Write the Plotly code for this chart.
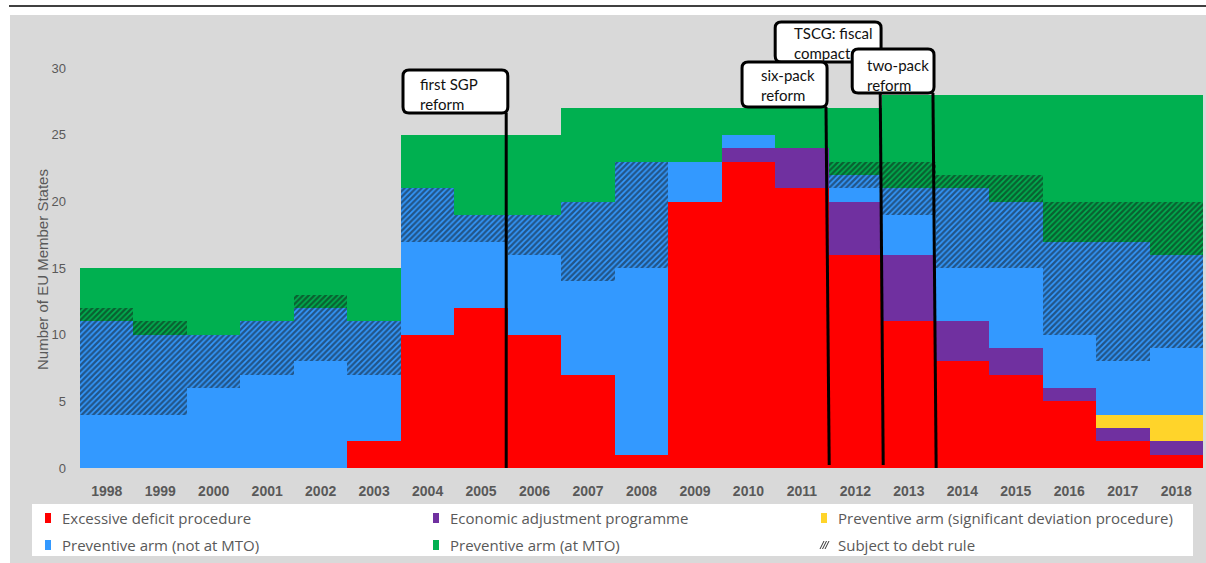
import plotly.graph_objects as go

# ---------------------------------------------------------------- data
years = list(range(1998, 2019))

# number of member states in each procedural situation (stacked bottom -> top)
excessive_deficit = [0, 0, 0, 0, 0, 2, 10, 12, 10, 7, 1, 20, 23, 21, 16, 11, 8, 7, 5, 2, 1]
adjustment_programme = [0, 0, 0, 0, 0, 0, 0, 0, 0, 0, 0, 0, 1, 3, 4, 5, 3, 2, 1, 1, 1]
significant_deviation = [0, 0, 0, 0, 0, 0, 0, 0, 0, 0, 0, 0, 0, 0, 0, 0, 0, 0, 0, 1, 2]
not_at_mto = [4, 4, 6, 7, 8, 5, 7, 5, 6, 7, 14, 3, 1, 0, 1, 3, 4, 6, 4, 4, 5]
not_at_mto_debt_rule = [7, 6, 4, 4, 4, 4, 4, 2, 3, 6, 8, 0, 0, 0, 1, 2, 6, 5, 7, 9, 7]
at_mto_debt_rule = [1, 1, 0, 0, 1, 0, 0, 0, 0, 0, 0, 0, 0, 0, 1, 2, 1, 2, 3, 3, 4]
at_mto = [3, 4, 5, 4, 2, 4, 4, 6, 6, 7, 4, 4, 2, 3, 4, 5, 6, 6, 8, 8, 8]

y_ticks = [0, 5, 10, 15, 20, 25, 30]

legend_labels = [
    "Excessive deficit procedure",
    "Economic adjustment programme",
    "Preventive arm (significant deviation procedure)",
    "Preventive arm (not at MTO)",
    "Preventive arm (at MTO)",
    "Subject to debt rule",
]

# ---------------------------------------------------------------- styles
RED = "#FF0000"
PURPLE = "#7030A0"
YELLOW = "#FFD42A"
BLUE = "#3399FF"
GREEN = "#00B050"
BG = "#D9D9D9"
GREY_TEXT = "#595959"
HATCH = dict(shape="/", fgcolor="#111111", size=4, solidity=0.6)

W, H = 1206, 563
PLOT_L, PLOT_R, PLOT_T, PLOT_B = 80, 1203, 15, 468
Y_MAX = 34


def px_x(px):
    """figure pixel column -> paper x"""
    return (px - PLOT_L) / (PLOT_R - PLOT_L)


def px_y(py):
    """figure pixel row -> paper y"""
    return (PLOT_B - py) / (PLOT_B - PLOT_T)


fig = go.Figure()

series = [
    (legend_labels[0], excessive_deficit, RED, None),
    (legend_labels[1], adjustment_programme, PURPLE, None),
    (legend_labels[2], significant_deviation, YELLOW, None),
    (legend_labels[3], not_at_mto, BLUE, None),
    (legend_labels[3] + " - debt rule", not_at_mto_debt_rule, BLUE, HATCH),
    (legend_labels[4] + " - debt rule", at_mto_debt_rule, GREEN, HATCH),
    (legend_labels[4], at_mto, GREEN, None),
]
for name, vals, color, hatch in series:
    marker = dict(color=color, line=dict(width=0))
    if hatch:
        marker["pattern"] = dict(hatch, bgcolor=color)
    fig.add_trace(go.Bar(x=years, y=vals, name=name, marker=marker,
                         width=1.0, showlegend=False))

# ---------------------------------------------------------------- reform callouts
events = [
    dict(text="first SGP<br>reform", box=(2003.54, 2005.50, 26.64, 29.87),
         text_at=(2003.82, 28.07), line=((2005.47, 26.64), (2005.47, 0.0))),
    dict(text="TSCG: fiscal<br>compact", box=(2010.50, 2012.48, 30.47, 33.47),
         text_at=(2010.81, 31.90), line=((2012.46, 30.47), (2012.52, 0.22))),
    dict(text="six-pack<br>reform", box=(2009.88, 2011.47, 27.09, 30.47),
         text_at=(2010.20, 28.78), line=((2011.45, 27.09), (2011.51, 0.22))),
    dict(text="two-pack<br>reform", box=(2011.94, 2013.47, 28.14, 31.45),
         text_at=(2012.18, 29.50), line=((2013.45, 28.14), (2013.51, 0.0))),
]

shapes = []
annotations = []

# callout pointer lines first so boxes sit on top of them
for ev in events:
    (lx0, ly0), (lx1, ly1) = ev["line"]
    shapes.append(dict(type="line", xref="x", yref="y", x0=lx0, y0=ly0, x1=lx1, y1=ly1,
                       line=dict(color="black", width=3), layer="above"))

RX = 6 / ((PLOT_R - PLOT_L) / 21)
RY = 6 / ((PLOT_B - PLOT_T) / Y_MAX)


def rounded_box(x0, x1, y0, y1):
    return (f"M {x0 + RX},{y0} L {x1 - RX},{y0} Q {x1},{y0} {x1},{y0 + RY} "
            f"L {x1},{y1 - RY} Q {x1},{y1} {x1 - RX},{y1} "
            f"L {x0 + RX},{y1} Q {x0},{y1} {x0},{y1 - RY} "
            f"L {x0},{y0 + RY} Q {x0},{y0} {x0 + RX},{y0} Z")


for ev in events:
    x0, x1, y0, y1 = ev["box"]
    shapes.append(dict(type="path", xref="x", yref="y", path=rounded_box(x0, x1, y0, y1),
                       fillcolor="white", line=dict(color="black", width=3), layer="above"))
    tx, ty = ev["text_at"]
    annotations.append(dict(x=tx, y=ty, xref="x", yref="y", text=ev["text"], showarrow=False,
                            xanchor="left", yanchor="middle", align="left",
                            font=dict(family="Lato", size=15, color="#111111")))

# ---------------------------------------------------------------- page frame
shapes.append(dict(type="rect", xref="paper", yref="paper", x0=px_x(0), x1=px_x(W),
                   y0=px_y(15), y1=px_y(0), fillcolor="white", line=dict(width=0), layer="above"))
shapes.append(dict(type="rect", xref="paper", yref="paper", x0=px_x(0), x1=px_x(10),
                   y0=px_y(H), y1=px_y(15), fillcolor="white", line=dict(width=0), layer="above"))
shapes.append(dict(type="line", xref="paper", yref="paper", x0=px_x(9), x1=px_x(W),
                   y0=px_y(6), y1=px_y(6), line=dict(color="black", width=1.5), layer="above"))

# ---------------------------------------------------------------- legend panel
shapes.append(dict(type="rect", xref="paper", yref="paper", x0=px_x(32), x1=px_x(1193),
                   y0=px_y(556), y1=px_y(504), fillcolor="white", line=dict(width=0), layer="above"))

legend_items = [
    (legend_labels[0], RED, 45, 518),
    (legend_labels[1], PURPLE, 433, 518),
    (legend_labels[2], YELLOW, 821, 518),
    (legend_labels[3], BLUE, 45, 545),
    (legend_labels[4], GREEN, 433, 545),
    (legend_labels[5], None, 821, 545),
]
for label, color, cx, cy in legend_items:
    if color:
        shapes.append(dict(type="rect", xref="paper", yref="paper", x0=px_x(cx), x1=px_x(cx + 6),
                           y0=px_y(cy + 5), y1=px_y(cy - 5), fillcolor=color,
                           line=dict(width=0), layer="above"))
    else:
        # small hatch swatch
        for k in range(3):
            shapes.append(dict(type="line", xref="paper", yref="paper",
                               x0=px_x(cx + k * 2.5 - 1), y0=px_y(cy + 4),
                               x1=px_x(cx + k * 2.5 + 3), y1=px_y(cy - 4),
                               line=dict(color="#333333", width=1), layer="above"))
    annotations.append(dict(x=px_x(cx + 15), y=px_y(cy), xref="paper", yref="paper", text=label,
                            showarrow=False, xanchor="left", yanchor="middle",
                            font=dict(family="Open Sans", size=15, color=GREY_TEXT)))

# y-axis title
annotations.append(dict(x=px_x(42), y=px_y(270), xref="paper", yref="paper",
                        text="Number of EU Member States", textangle=-90, showarrow=False,
                        xanchor="center", yanchor="middle",
                        font=dict(family="Liberation Sans", size=15, color=GREY_TEXT)))

fig.update_layout(
    width=W, height=H, autosize=False,
    margin=dict(l=PLOT_L, r=W - PLOT_R, t=PLOT_T, b=H - PLOT_B, pad=0),
    barmode="stack", bargap=0,
    paper_bgcolor=BG, plot_bgcolor=BG,
    shapes=shapes, annotations=annotations,
    showlegend=False,
    xaxis=dict(range=[1997.5, 2018.5], tickvals=years, ticktext=[str(y) for y in years],
               showgrid=False, zeroline=False, showline=False, ticks="",
               ticklabelstandoff=13,
               tickfont=dict(family="Liberation Sans", size=14, color=GREY_TEXT, weight="bold")),
    yaxis=dict(range=[0, Y_MAX], tickvals=y_ticks, showgrid=False, zeroline=False,
               showline=False, ticks="", ticklabelstandoff=13,
               tickfont=dict(family="Liberation Sans", size=13, color=GREY_TEXT)),
)

fig.write_html("out.html", config={"displayModeBar": False})
